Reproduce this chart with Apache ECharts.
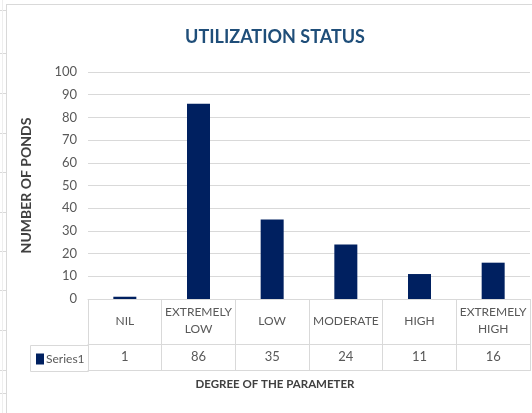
<!DOCTYPE html>
<html>
<head>
<meta charset="utf-8">
<script src="https://cdn.jsdelivr.net/npm/echarts@6/dist/echarts.min.js"></script>
<style>
  html, body { margin: 0; padding: 0; background: #fff; }
  #main { width: 532px; height: 413px; }
</style>
</head>
<body>
<div id="main"></div>
<script>
const categories = ["NIL", "EXTREMELY\nLOW", "LOW", "MODERATE", "HIGH", "EXTREMELY\nHIGH"];
const values = [1, 86, 35, 24, 11, 16];
const valueLabels = values.map(String);
const yTicks = { min: 0, max: 100, interval: 10 };
const sheetRows = [10, 53, 93, 133, 172, 212, 251, 290, 330, 370, 393];

const grey = "#d9d9d9";
const font = "Lato, 'Open Sans', sans-serif";

const chart = echarts.init(document.getElementById("main"));

// spreadsheet row marks on the far left + chart frame
const frame = sheetRows.map((y) => ({
  type: "line",
  shape: { x1: 0, y1: y + 0.5, x2: 6, y2: y + 0.5 },
  style: { stroke: grey, lineWidth: 1 },
}));
frame.push(
  { type: "line", shape: { x1: 2.5, y1: 0, x2: 2.5, y2: 413 }, style: { stroke: "#eeeeee", lineWidth: 1 } },
  { type: "line", shape: { x1: 6.5, y1: 4, x2: 6.5, y2: 413 }, style: { stroke: grey, lineWidth: 1 } },
  { type: "line", shape: { x1: 6, y1: 4.5, x2: 532, y2: 4.5 }, style: { stroke: grey, lineWidth: 1 } },
  // "Series1" cell of the data table
  { type: "rect", shape: { x: 30.5, y: 345.5, width: 58, height: 26 }, style: { fill: "none", stroke: grey, lineWidth: 1 } },
  {
    type: "text", x: 275, y: 37,
    style: { text: "UTILIZATION STATUS", font: "bold 18px " + font, fill: "#1f4e79", align: "center", verticalAlign: "middle" },
  },
  {
    type: "text", x: 275, y: 384,
    style: { text: "DEGREE OF THE PARAMETER", font: "bold 11.5px " + font, fill: "#404040", align: "center", verticalAlign: "middle" },
  }
);

const option = {
  animation: false,
  textStyle: { fontFamily: font },
  grid: { left: 88, right: 2, top: 72, bottom: 114, containLabel: false },
  legend: {
    left: 31,
    top: 348,
    icon: "rect",
    itemWidth: 8,
    itemHeight: 11,
    itemGap: 2,
    textStyle: { color: "#595959", fontSize: 12, padding: [0, 0, 0, -3] },
    data: ["Series1"],
  },
  xAxis: [
    {
      type: "category",
      data: categories,
      position: "bottom",
      axisLine: { lineStyle: { color: grey } },
      axisTick: { show: true, length: 72, interval: 0, lineStyle: { color: grey } },
      axisLabel: { interval: 0, margin: 22, verticalAlign: "middle", color: "#595959", fontSize: 12, lineHeight: 17 },
    },
    {
      type: "category",
      data: valueLabels,
      position: "bottom",
      offset: 45,
      axisLine: { lineStyle: { color: grey } },
      axisTick: { show: false },
      axisLabel: { interval: 0, margin: 13, verticalAlign: "middle", color: "#595959", fontSize: 13 },
    },
    {
      type: "category",
      data: valueLabels,
      position: "bottom",
      offset: 71,
      axisLine: { lineStyle: { color: grey } },
      axisTick: { show: false },
      axisLabel: { show: false },
    },
  ],
  yAxis: {
    type: "value",
    min: yTicks.min,
    max: yTicks.max,
    interval: yTicks.interval,
    name: "NUMBER OF PONDS",
    nameLocation: "middle",
    nameGap: 55,
    nameTextStyle: { color: "#404040", fontSize: 14, fontWeight: "bold" },
    axisLine: { show: false },
    axisTick: { show: false },
    axisLabel: { color: "#595959", fontSize: 13, margin: 11 },
    splitLine: { lineStyle: { color: grey } },
  },
  series: [
    {
      name: "Series1",
      type: "bar",
      data: values,
      barWidth: 23,
      itemStyle: { color: "#002060" },
    },
  ],
  graphic: frame,
};

chart.setOption(option);
</script>
</body>
</html>
